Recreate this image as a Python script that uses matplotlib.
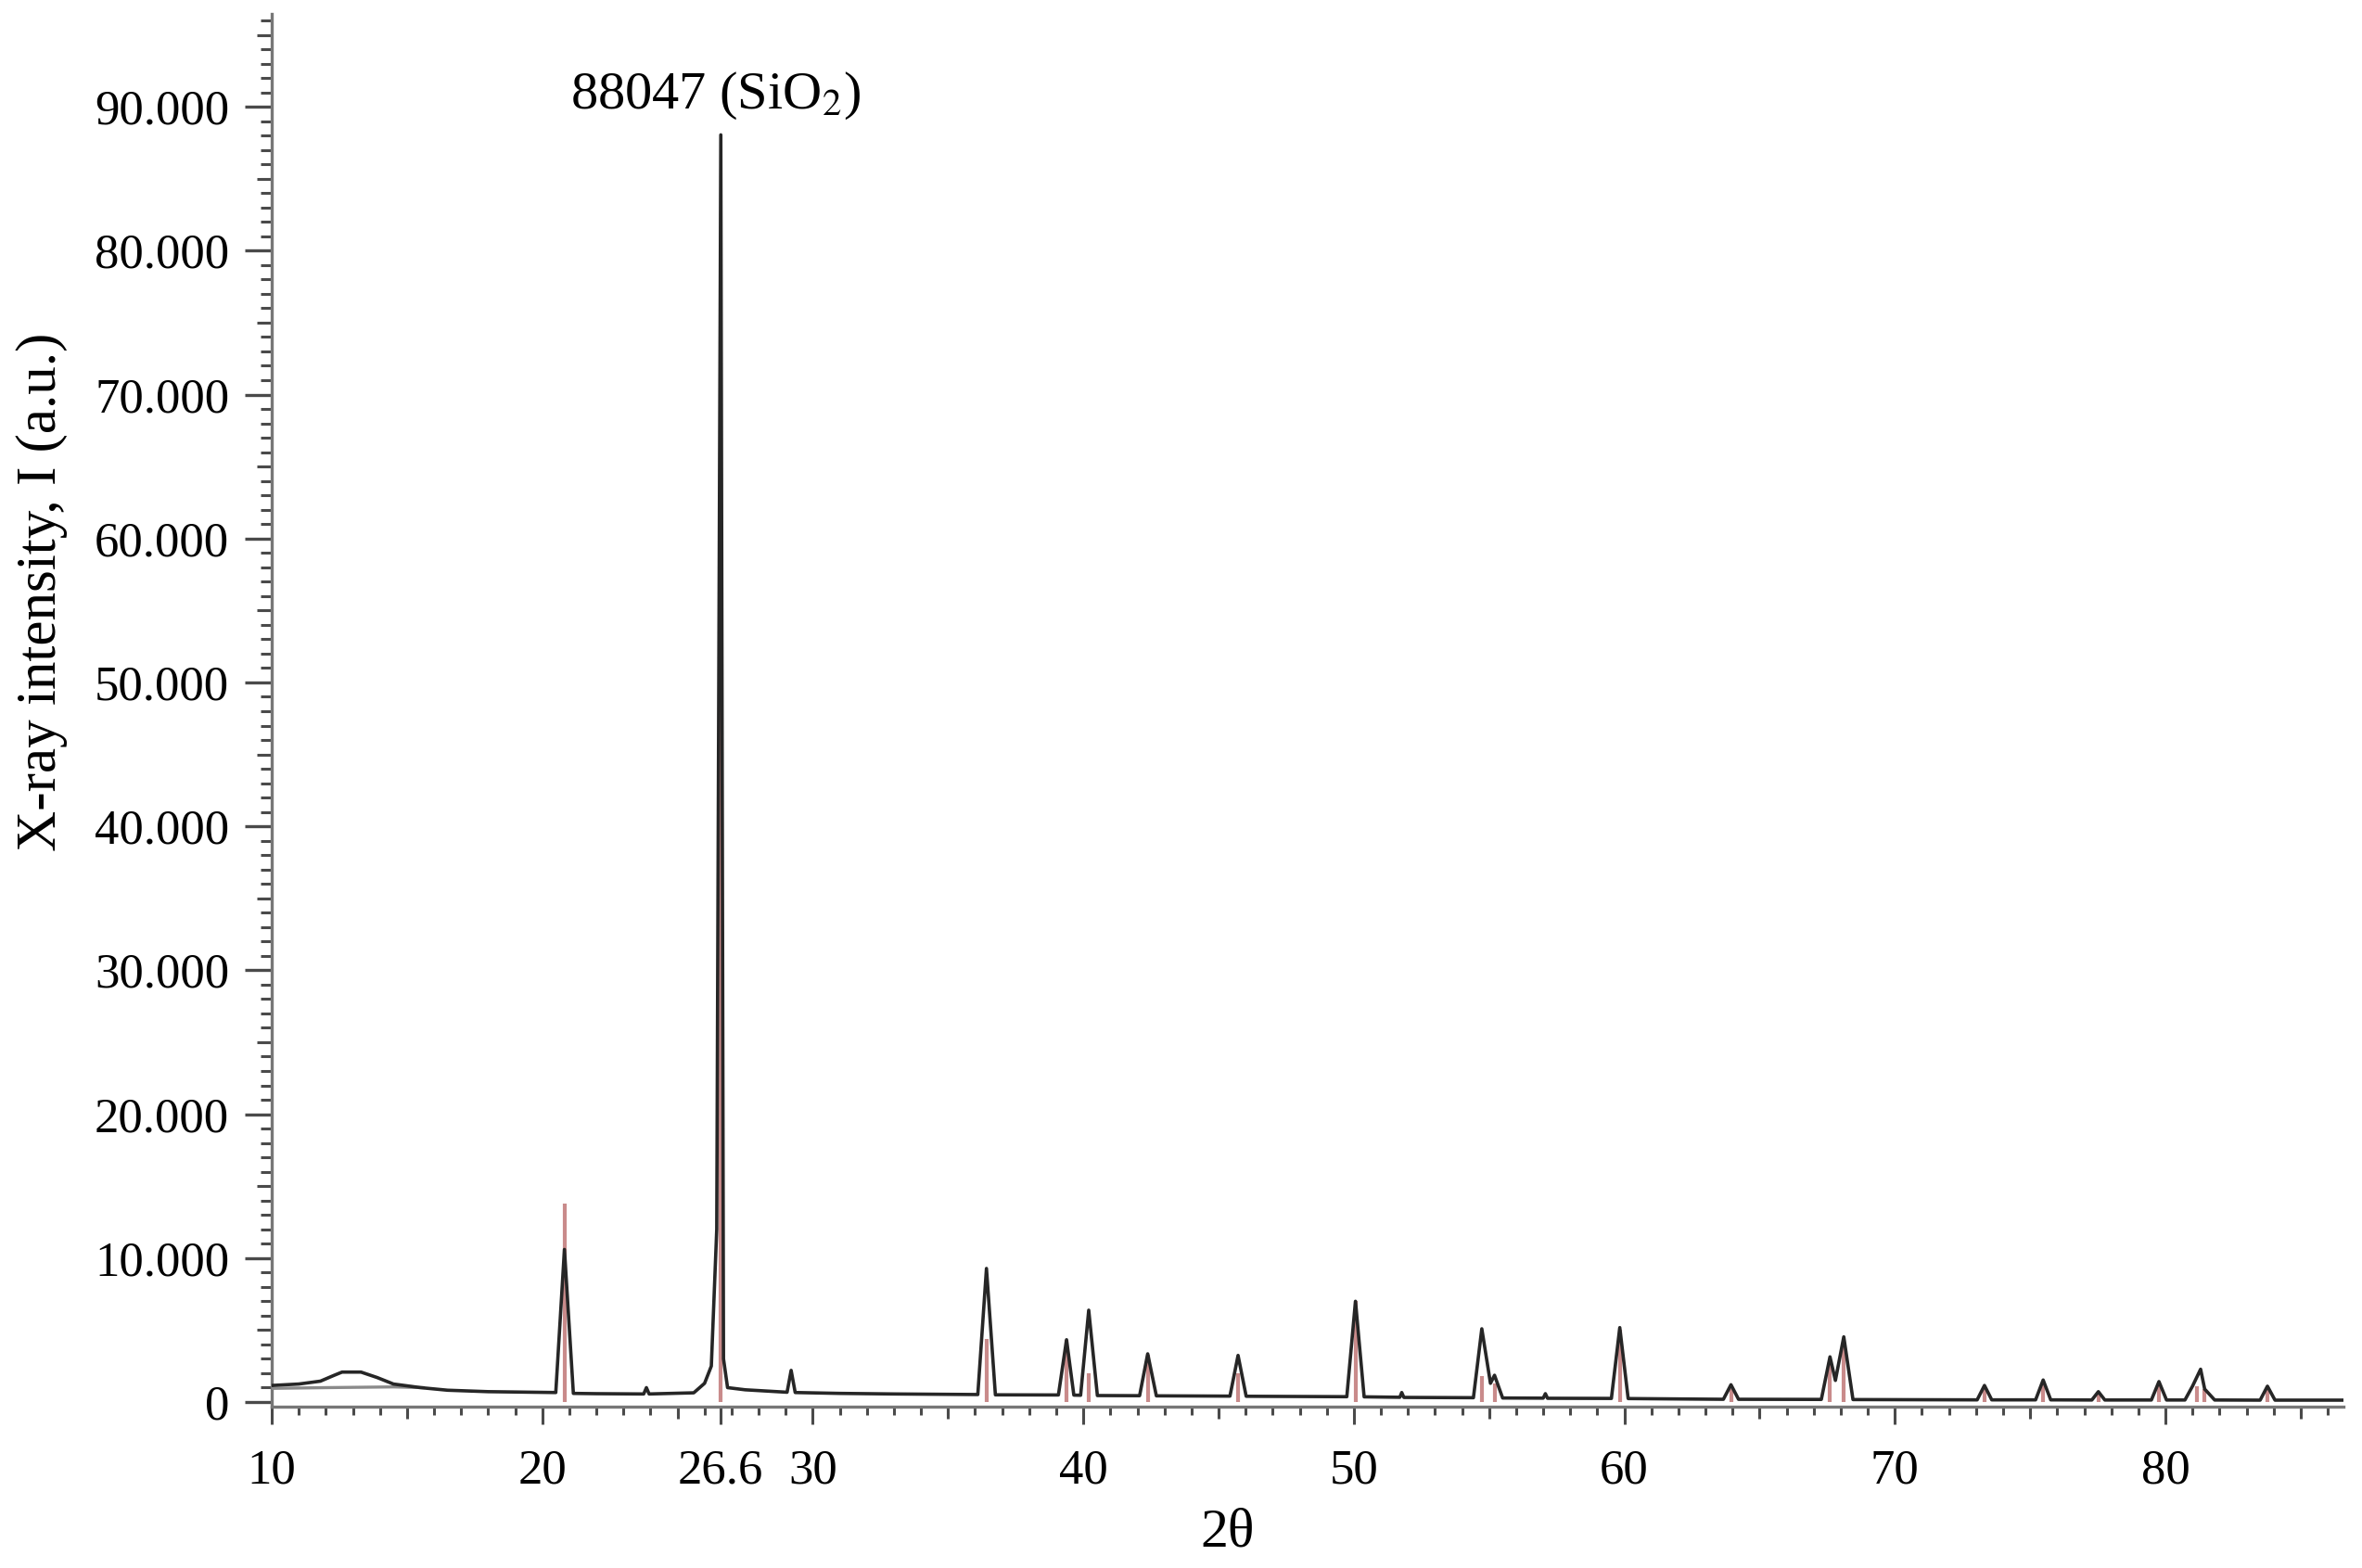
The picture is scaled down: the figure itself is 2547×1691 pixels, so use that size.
import numpy as np
import matplotlib
matplotlib.use("Agg")
import matplotlib.pyplot as plt

plt.rcParams['font.family'] = ['Liberation Serif', 'DejaVu Serif']
plt.rcParams['mathtext.fontset'] = 'stix'

two_theta = [10.0, 11.0, 11.8, 12.3, 12.6, 13.3, 13.9, 14.5, 15.5, 16.5, 18.0, 20.5,
             20.82, 21.15, 22.0, 23.75, 23.85, 23.95, 25.6, 26.0, 26.25, 26.45, 26.6, 26.7, 26.85, 27.5, 29.05,
             29.2, 29.35, 31.0, 33.0, 36.1, 36.42, 36.75, 39.08, 39.38, 39.65, 39.9, 40.2, 40.52,
             42.08, 42.38, 42.7, 45.42, 45.72, 46.02, 49.74, 50.06, 50.38, 51.7, 51.77, 51.85,
             54.42, 54.73, 55.05, 55.2, 55.5, 57.0, 57.08, 57.16, 59.52, 59.83, 60.14,
             63.66, 63.94, 64.22, 67.28, 67.6, 67.8, 68.11, 68.45, 73.04, 73.31, 73.58,
             75.2, 75.48, 75.76, 77.28, 77.52, 77.76, 79.48, 79.76, 80.04,
             80.72, 81.0, 81.3, 81.45, 81.82, 83.5, 83.77, 84.05, 86.58]
intensity = [1150, 1250, 1450, 1850, 2080, 2080, 1700, 1250, 1000, 820, 720, 660,
             10600, 600, 580, 560, 1000, 560, 640, 1300, 2500, 12000, 88047, 3000, 1000, 850, 680,
             2200, 660, 600, 560, 520, 9280, 500, 490, 4330, 480, 470, 6380, 450,
             440, 3350, 430, 410, 3240, 400, 370, 7000, 360, 330, 660, 320,
             300, 5090, 1300, 1860, 280, 270, 580, 260, 250, 5170, 240,
             190, 1200, 190, 180, 3140, 1500, 4530, 170, 150, 1150, 150,
             150, 1530, 150, 140, 720, 140, 140, 1420, 140,
             140, 1100, 2280, 900, 140, 130, 1100, 130, 130]

# lower background line under the amorphous hump
bg_theta = [10.0, 12.0, 14.5, 15.6]
bg_int = [950, 1000, 1050, 1000]

# SiO2 reference sticks
stick_pos = [20.82, 26.6, 36.42, 39.38, 40.2, 42.38, 45.72, 50.06, 54.73, 55.2, 59.83,
             63.94, 67.6, 68.11, 73.31, 75.48, 77.52, 79.76, 81.15, 81.45, 83.77]
stick_int = [13800, 62000, 4400, 4300, 2000, 3300, 2000, 7000, 1800, 1300, 5000,
             900, 2800, 4000, 900, 1300, 600, 1200, 1100, 900, 900]

x_ticks = [10, 20, 26.6, 30, 40, 50, 60, 70, 80]
x_ticklabels = ['10', '20', '26.6', '30', '40', '50', '60', '70', '80']
y_ticks = np.arange(0, 90001, 10000)
y_ticklabels = ['0'] + ['%d.000' % (v // 1000) for v in y_ticks[1:]]

W, H = 2547, 1691
fig = plt.figure(figsize=(W / 100, H / 100), dpi=100)
ax = fig.add_axes([293 / W, 1 - 1517 / H, (2527 - 293) / W, (1517 - 15) / H])

ax.vlines(stick_pos, 0, stick_int, color='#c98b8b', lw=3.0, zorder=2)
ax.plot(bg_theta, bg_int, color='#8a8a8a', lw=2.4, zorder=3)
ax.plot(two_theta, intensity, color='#262626', lw=2.6, zorder=4)

ax.set_xlim(10, 86.58)
ax.set_ylim(-322, 96450)

spine_col = '#777777'
tick_col = '#4a4a4a'
for s in ['top', 'right']:
    ax.spines[s].set_visible(False)
for s in ['left', 'bottom']:
    ax.spines[s].set_color(spine_col)
    ax.spines[s].set_linewidth(2.4)

ax.set_xticks(x_ticks)
ax.set_xticklabels(x_ticklabels)
ax.set_xticks(np.arange(10, 87, 1), minor=True)
ax.set_yticks(y_ticks)
ax.set_yticklabels(y_ticklabels)
ax.set_yticks(np.arange(0, 96001, 1000), minor=True)

ax.tick_params(axis='x', which='major', length=13.7, width=2.2, color=tick_col,
               labelsize=38, pad=19, direction='out')
ax.tick_params(axis='x', which='minor', length=6.5, width=2.2, color=tick_col, direction='out')
ax.tick_params(axis='y', which='major', length=21, width=2.4, color=tick_col,
               labelsize=38, pad=12, direction='out')
ax.tick_params(axis='y', which='minor', length=8.6, width=2.2, color=tick_col, direction='out')

# medium ticks every 5 (x) and 5.000 (y)
secx = ax.secondary_xaxis('bottom')
secx.set_xticks(np.arange(15, 86, 10))
secx.tick_params(length=9.4, width=2.2, color=tick_col, labelbottom=False)
secx.spines['bottom'].set_visible(False)
secy = ax.secondary_yaxis('left')
secy.set_yticks(np.arange(5000, 96000, 10000))
secy.tick_params(length=11.5, width=2.2, color=tick_col, labelleft=False)
secy.spines['left'].set_visible(False)

ax.text(26.41, 90780, '88047 (SiO$_2$)', ha='center', va='center', fontsize=42)

fig.text(1324 / W, 1 - 1654 / H, '2θ', ha='center', va='center', fontsize=43)
fig.text(45 / W, 1 - 638 / H, 'X-ray intensity, I (a.u.)', ha='center', va='center',
         rotation=90, fontsize=44)

fig.savefig('out.png', dpi=100)
